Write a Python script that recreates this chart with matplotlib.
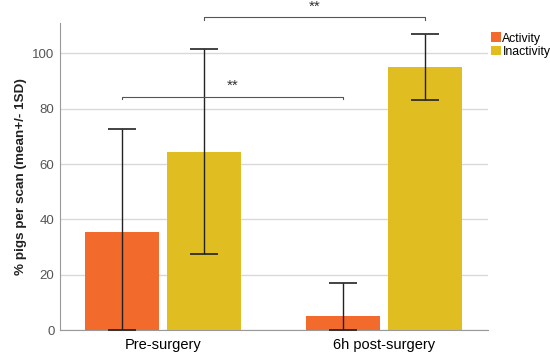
import numpy as np
import matplotlib.pyplot as plt

plt.rcParams['font.family'] = ['Liberation Sans', 'DejaVu Sans']

groups = ['Pre-surgery', '6h post-surgery']
activity = [35.5, 5.0]
inactivity = [64.5, 95.0]
activity_sd = [37.0, 12.0]
inactivity_sd = [37.0, 12.0]
yticks = [0, 20, 40, 60, 80, 100]

c_act = '#F26A2C'
c_inact = '#E0BD20'

fig = plt.figure(figsize=(5.5, 3.58), dpi=100)
ax = fig.add_axes([0.109, 0.078, 0.778, 0.858])

x = np.arange(len(groups))
w = 0.335
off = 0.1855


def err(mean, sd):
    mean = np.array(mean)
    sd = np.array(sd)
    lo = np.minimum(sd, mean)  # bars clipped at 0
    return [lo, sd]


ax.bar(x - off, activity, w, color=c_act, label='Activity', zorder=2)
ax.bar(x + off, inactivity, w, color=c_inact, label='Inactivity', zorder=2)
ax.errorbar(x - off, activity, yerr=err(activity, activity_sd), fmt='none',
            ecolor='#222222', elinewidth=1, capsize=10, capthick=1.2, zorder=3)
ax.errorbar(x + off, inactivity, yerr=err(inactivity, inactivity_sd), fmt='none',
            ecolor='#222222', elinewidth=1, capsize=10, capthick=1.2, zorder=3)

# significance brackets
def bracket(x1, x2, y, h=1.0):
    ax.plot([x1, x1, x2, x2], [y - h, y, y, y - h], color='#555555', lw=0.8,
            clip_on=False, zorder=4)
    ax.text((x1 + x2) / 2, y + 1.2, '**', ha='center', va='bottom',
            fontsize=11, color='#333333', clip_on=False)

bracket(x[0] - off, x[1] - off, 84.4)
bracket(x[0] + off, x[1] + off, 113.0)

ax.set_xlim(-0.466, 1.47)
ax.set_ylim(0, 111)
ax.set_yticks(yticks)
ax.set_xticks(x)
ax.set_xticklabels(groups, fontsize=10.5)
ax.tick_params(axis='both', length=0, pad=6)
ax.tick_params(axis='y', labelsize=9.5, labelcolor='#555555', pad=4)
ax.yaxis.grid(True, color='#d9d9d9', lw=1, zorder=0)
ax.set_axisbelow(True)
for s in ['top', 'right']:
    ax.spines[s].set_visible(False)
for s in ['left', 'bottom']:
    ax.spines[s].set_color('#999999')
ax.set_ylabel('% pigs per scan (mean+/- 1SD)', fontsize=9.7, fontweight='bold',
              color='#222222', labelpad=4)

ax.legend(loc='upper left', bbox_to_anchor=(0.997, 0.985), frameon=False,
          fontsize=8.8, handlelength=0.75, handleheight=0.85, handletextpad=0.15,
          labelspacing=0.1, borderaxespad=0)

fig.savefig('out.png', dpi=100)
